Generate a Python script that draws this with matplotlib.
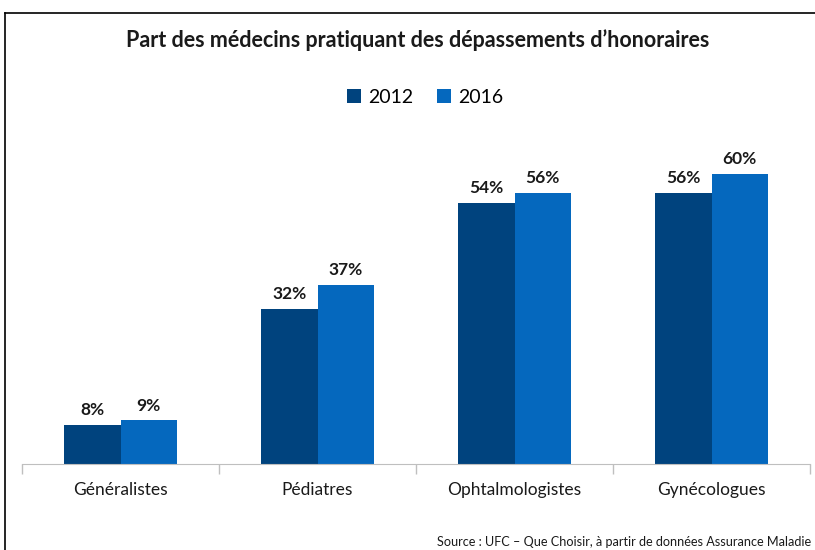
import matplotlib
matplotlib.use("Agg")
import matplotlib.pyplot as plt
from matplotlib.lines import Line2D
from matplotlib.patches import Patch
import numpy as np

categories = ["Généralistes", "Pédiatres", "Ophtalmologistes", "Gynécologues"]
series_names = ["2012", "2016"]
values_2012 = [8, 32, 54, 56]
values_2016 = [9, 37, 56, 60]
colors = ["#00437E", "#0568BE"]

plt.rcParams['font.family'] = ['Lato', 'DejaVu Sans']

fig = plt.figure(figsize=(8.15, 5.5), dpi=100)
ax = fig.add_axes([0.027, 0.1564, 0.967, 0.615])

x = np.arange(len(categories))
w = 0.285
for vals, off, col in [(values_2012, -w / 2, colors[0]), (values_2016, w / 2, colors[1])]:
    bars = ax.bar(x + off, vals, width=w, color=col, edgecolor='none', zorder=2)
    for b, v in zip(bars, vals):
        ax.annotate(f"{v}%", (b.get_x() + b.get_width() / 2, b.get_height()),
                    xytext=(0, 5), textcoords='offset points', ha='center', va='bottom',
                    fontsize=12.5, fontweight='bold', color='#1a1a1a')

ax.set_xlim(-0.5, len(categories) - 0.5)
ax.set_ylim(0, 70)
ax.set_yticks([])
ax.set_xticks(x)
ax.set_xticklabels(categories, fontsize=12.5, color='#1a1a1a')
ax.tick_params(axis='x', which='major', length=0, pad=13)
ax.set_xticks(np.arange(-0.5, len(categories)), minor=True)
ax.tick_params(axis='x', which='minor', length=7, color='#BFBFBF', width=1)
for s in ['top', 'right', 'left']:
    ax.spines[s].set_visible(False)
ax.spines['bottom'].set_color('#BFBFBF')

fig.text(0.513, 0.927, "Part des médecins pratiquant des dépassements d’honoraires",
         ha='center', va='center', fontsize=15.5, fontweight='bold', color='#1a1a1a')

handles = [Patch(facecolor=c, edgecolor='none') for c in colors]
fig.legend(handles, series_names, loc='center', bbox_to_anchor=(0.522, 0.823), ncol=2,
           frameon=False, fontsize=14, handlelength=0.7, handleheight=0.7,
           handletextpad=0.4, columnspacing=1.2)

fig.text(0.536, 0.004, "Source : UFC – Que Choisir, à partir de données Assurance Maladie",
         ha='left', va='bottom', fontsize=9.1, color='#1a1a1a')

fig.add_artist(Line2D([0.006, 1.0], [0.976, 0.976], transform=fig.transFigure, color='black', lw=1.2))
fig.add_artist(Line2D([0.006, 0.006], [0.0, 0.976], transform=fig.transFigure, color='black', lw=1.2))

fig.savefig("out.png", dpi=100)
